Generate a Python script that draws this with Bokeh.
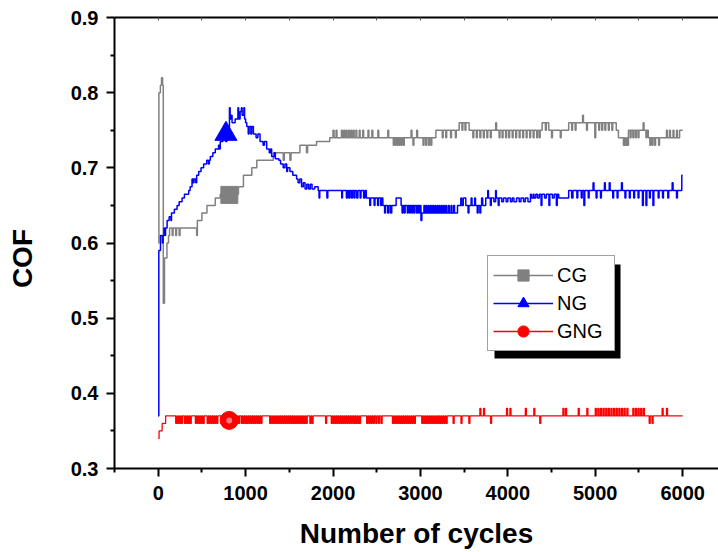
from bokeh.plotting import figure
from bokeh.models import (Range1d, FixedTicker, Legend, LegendItem, LinearAxis,
                          PrintfTickFormatter, BoxAnnotation, CustomJSTickFormatter)
from bokeh.embed import file_html
from bokeh.resources import INLINE

# ---------------- data ----------------
x_ticks = [0, 1000, 2000, 3000, 4000, 5000, 6000]
x_minor = [-500, 500, 1500, 2500, 3500, 4500, 5500, 6500]
y_ticks = [0.3, 0.4, 0.5, 0.6, 0.7, 0.8, 0.9]
y_minor = [0.35, 0.45, 0.55, 0.65, 0.75, 0.85]

cg_x = [
    0, 8, 25, 38, 50, 58, 72, 100, 118, 130,
    160, 170, 200, 210, 240, 250, 440, 448, 500, 558,
    653, 710, 918, 975, 1071, 1128, 1317, 1431, 1443, 1507,
    1519, 1621, 1697, 1709, 1811, 1962, 2000, 2012, 2035, 2045,
    2096, 2108, 2125, 2135, 2150, 2160, 2178, 2188, 2205, 2215,
    2232, 2242, 2262, 2272, 2300, 2310, 2340, 2350, 2400, 2410,
    2445, 2455, 2513, 2523, 2627, 2637, 2690, 2700, 2712, 2722,
    2734, 2744, 2756, 2766, 2780, 2790, 2805, 2815, 2893, 2903,
    2915, 2925, 2957, 2967, 3030, 3040, 3060, 3070, 3092, 3102,
    3120, 3130, 3177, 3250, 3260, 3290, 3300, 3345, 3355, 3400,
    3410, 3443, 3475, 3485, 3510, 3520, 3557, 3600, 3610, 3640,
    3650, 3680, 3690, 3720, 3730, 3760, 3770, 3800, 3810, 3861,
    3871, 3900, 3910, 3935, 3945, 3975, 3985, 4010, 4020, 4050,
    4060, 4090, 4100, 4130, 4140, 4170, 4180, 4210, 4220, 4250,
    4260, 4290, 4300, 4330, 4340, 4360, 4370, 4392, 4430, 4440,
    4468, 4500, 4510, 4600, 4610, 4696, 4730, 4740, 4770, 4780,
    4855, 4865, 4900, 4910, 4995, 5005, 5040, 5050, 5075, 5085,
    5110, 5120, 5150, 5160, 5190, 5200, 5240, 5265, 5322, 5335,
    5345, 5360, 5370, 5380, 5400, 5410, 5430, 5440, 5460, 5470,
    5490, 5500, 5548, 5558, 5580, 5590, 5607, 5625, 5635, 5650,
    5660, 5680, 5690, 5725, 5735, 5815, 5825, 5850, 5860, 5890,
    5900, 5930, 5940, 5965, 6000]
cg_y = [
    0.60, 0.80, 0.81, 0.82, 0.81, 0.52, 0.58, 0.60, 0.61, 0.62,
    0.61, 0.62, 0.61, 0.62, 0.61, 0.62, 0.61, 0.63, 0.64, 0.65,
    0.66, 0.665, 0.675, 0.69, 0.70, 0.71, 0.72, 0.71, 0.72, 0.71,
    0.72, 0.73, 0.72, 0.73, 0.735, 0.74, 0.75, 0.74, 0.75, 0.74,
    0.75, 0.74, 0.75, 0.74, 0.75, 0.74, 0.75, 0.74, 0.75, 0.74,
    0.75, 0.74, 0.75, 0.74, 0.75, 0.74, 0.75, 0.74, 0.75, 0.74,
    0.75, 0.74, 0.75, 0.74, 0.75, 0.74, 0.73, 0.74, 0.73, 0.74,
    0.73, 0.74, 0.73, 0.74, 0.73, 0.74, 0.73, 0.74, 0.75, 0.74,
    0.73, 0.74, 0.75, 0.74, 0.73, 0.74, 0.73, 0.74, 0.73, 0.74,
    0.73, 0.74, 0.75, 0.74, 0.75, 0.74, 0.75, 0.74, 0.75, 0.74,
    0.75, 0.76, 0.75, 0.76, 0.75, 0.76, 0.75, 0.74, 0.75, 0.74,
    0.75, 0.74, 0.75, 0.74, 0.75, 0.74, 0.75, 0.74, 0.75, 0.76,
    0.75, 0.74, 0.75, 0.74, 0.75, 0.74, 0.75, 0.74, 0.75, 0.74,
    0.75, 0.74, 0.75, 0.74, 0.75, 0.74, 0.75, 0.74, 0.75, 0.74,
    0.75, 0.74, 0.75, 0.74, 0.75, 0.74, 0.75, 0.76, 0.75, 0.76,
    0.75, 0.74, 0.75, 0.74, 0.75, 0.76, 0.75, 0.76, 0.75, 0.76,
    0.77, 0.76, 0.75, 0.76, 0.74, 0.76, 0.75, 0.76, 0.75, 0.76,
    0.75, 0.76, 0.75, 0.76, 0.75, 0.76, 0.75, 0.74, 0.73, 0.74,
    0.73, 0.74, 0.73, 0.75, 0.74, 0.75, 0.74, 0.75, 0.74, 0.75,
    0.74, 0.75, 0.76, 0.75, 0.74, 0.75, 0.74, 0.73, 0.74, 0.73,
    0.74, 0.73, 0.74, 0.73, 0.74, 0.75, 0.74, 0.75, 0.74, 0.75,
    0.74, 0.75, 0.74, 0.75, 0.75]

ng_x = [
    0, 7, 26, 48, 56, 66, 74, 84, 102, 125,
    145, 152, 185, 216, 240, 273, 300, 349, 365, 387,
    400, 410, 430, 440, 463, 490, 520, 555, 575, 585,
    596, 625, 653, 690, 700, 710, 740, 770, 786, 800,
    808, 815, 823, 835, 845, 880, 912, 920, 937, 952,
    960, 980, 988, 1000, 1013, 1030, 1040, 1060, 1070, 1089,
    1120, 1140, 1165, 1200, 1215, 1241, 1270, 1285, 1298, 1330,
    1340, 1380, 1400, 1430, 1450, 1470, 1480, 1507, 1540, 1583,
    1600, 1620, 1640, 1660, 1680, 1700, 1720, 1740, 1760, 1790,
    1830, 1840, 1848, 1930, 1940, 2100, 2108, 2153, 2165, 2180,
    2192, 2210, 2222, 2240, 2250, 2270, 2285, 2310, 2320, 2350,
    2365, 2381, 2420, 2430, 2470, 2480, 2510, 2520, 2545, 2555,
    2570, 2590, 2600, 2625, 2640, 2660, 2672, 2722, 2779, 2790,
    2800, 2815, 2825, 2850, 2860, 2875, 2885, 2900, 2910, 2925,
    2935, 2955, 2965, 2980, 2990, 3006, 3016, 3040, 3050, 3065,
    3075, 3090, 3100, 3115, 3125, 3140, 3150, 3165, 3175, 3190,
    3200, 3215, 3225, 3240, 3250, 3265, 3275, 3290, 3300, 3320,
    3330, 3350, 3360, 3380, 3390, 3424, 3462, 3472, 3490, 3519,
    3545, 3555, 3580, 3590, 3620, 3630, 3650, 3660, 3680, 3690,
    3700, 3712, 3747, 3770, 3778, 3800, 3810, 3840, 3860, 3868,
    3890, 3900, 3930, 3950, 3980, 4000, 4030, 4050, 4070, 4100,
    4130, 4150, 4180, 4200, 4230, 4259, 4270, 4290, 4300, 4320,
    4340, 4360, 4380, 4390, 4420, 4440, 4470, 4480, 4510, 4530,
    4555, 4565, 4582, 4696, 4730, 4745, 4790, 4800, 4840, 4850,
    4870, 4880, 4920, 4930, 4975, 4985, 5010, 5020, 5060, 5070,
    5105, 5115, 5160, 5170, 5200, 5210, 5250, 5260, 5300, 5310,
    5340, 5350, 5390, 5400, 5440, 5450, 5490, 5500, 5540, 5550,
    5580, 5590, 5620, 5630, 5660, 5670, 5720, 5730, 5770, 5780,
    5830, 5840, 5880, 5890, 5930, 5940, 5990, 6000]
ng_y = [
    0.37, 0.59, 0.61, 0.60, 0.61, 0.62, 0.61, 0.62, 0.63, 0.635,
    0.63, 0.64, 0.645, 0.65, 0.655, 0.66, 0.665, 0.67, 0.675, 0.685,
    0.68, 0.685, 0.68, 0.69, 0.695, 0.70, 0.705, 0.71, 0.705, 0.71,
    0.715, 0.72, 0.725, 0.73, 0.725, 0.735, 0.74, 0.735, 0.75, 0.74,
    0.75, 0.78, 0.765, 0.77, 0.76, 0.765, 0.78, 0.765, 0.775, 0.78,
    0.77, 0.78, 0.765, 0.76, 0.755, 0.745, 0.755, 0.745, 0.755, 0.745,
    0.74, 0.745, 0.735, 0.73, 0.735, 0.725, 0.72, 0.725, 0.715, 0.72,
    0.712, 0.71, 0.705, 0.70, 0.705, 0.695, 0.70, 0.695, 0.69, 0.685,
    0.68, 0.685, 0.675, 0.68, 0.672, 0.678, 0.672, 0.678, 0.672, 0.675,
    0.67, 0.66, 0.67, 0.66, 0.67, 0.66, 0.67, 0.66, 0.67, 0.66,
    0.67, 0.66, 0.67, 0.66, 0.67, 0.66, 0.67, 0.66, 0.67, 0.66,
    0.67, 0.66, 0.65, 0.66, 0.65, 0.66, 0.65, 0.66, 0.65, 0.66,
    0.65, 0.64, 0.65, 0.64, 0.65, 0.64, 0.65, 0.66, 0.65, 0.64,
    0.65, 0.64, 0.65, 0.64, 0.65, 0.64, 0.65, 0.64, 0.65, 0.64,
    0.65, 0.64, 0.65, 0.64, 0.65, 0.63, 0.64, 0.65, 0.64, 0.65,
    0.64, 0.65, 0.64, 0.65, 0.64, 0.65, 0.64, 0.65, 0.64, 0.65,
    0.64, 0.65, 0.64, 0.65, 0.64, 0.65, 0.64, 0.65, 0.64, 0.65,
    0.64, 0.65, 0.64, 0.65, 0.64, 0.65, 0.66, 0.65, 0.66, 0.65,
    0.64, 0.65, 0.66, 0.65, 0.66, 0.65, 0.64, 0.65, 0.64, 0.65,
    0.66, 0.65, 0.66, 0.67, 0.66, 0.65, 0.66, 0.655, 0.67, 0.66,
    0.65, 0.66, 0.655, 0.66, 0.655, 0.66, 0.655, 0.66, 0.655, 0.66,
    0.655, 0.66, 0.655, 0.66, 0.655, 0.665, 0.66, 0.665, 0.66, 0.665,
    0.66, 0.665, 0.65, 0.665, 0.66, 0.665, 0.65, 0.665, 0.66, 0.665,
    0.65, 0.665, 0.66, 0.67, 0.66, 0.67, 0.66, 0.67, 0.66, 0.67,
    0.65, 0.67, 0.66, 0.67, 0.68, 0.67, 0.66, 0.67, 0.66, 0.67,
    0.68, 0.67, 0.68, 0.67, 0.66, 0.67, 0.66, 0.67, 0.68, 0.67,
    0.66, 0.67, 0.66, 0.67, 0.66, 0.67, 0.66, 0.67, 0.65, 0.67,
    0.65, 0.67, 0.66, 0.67, 0.65, 0.67, 0.66, 0.67, 0.66, 0.67,
    0.66, 0.67, 0.68, 0.67, 0.66, 0.67, 0.69, 0.69]

gng_x = [
    0, 10, 45, 85, 200, 212, 222, 234, 244, 256,
    266, 278, 300, 312, 322, 334, 344, 356, 366, 378,
    425, 437, 447, 459, 470, 482, 492, 504, 514, 526,
    560, 572, 582, 594, 604, 616, 626, 638, 648, 660,
    670, 682, 720, 732, 742, 754, 764, 776, 786, 798,
    808, 820, 830, 842, 852, 864, 874, 886, 896, 908,
    918, 930, 950, 962, 972, 984, 994, 1006, 1016, 1028,
    1040, 1052, 1062, 1074, 1084, 1096, 1106, 1118, 1130, 1142,
    1152, 1164, 1175, 1187, 1275, 1287, 1297, 1309, 1319, 1331,
    1341, 1353, 1363, 1375, 1385, 1397, 1407, 1419, 1429, 1441,
    1451, 1463, 1473, 1485, 1495, 1507, 1517, 1529, 1539, 1551,
    1561, 1573, 1583, 1595, 1605, 1617, 1627, 1639, 1649, 1661,
    1671, 1683, 1693, 1705, 1735, 1747, 1760, 1772, 1915, 1927,
    1980, 1992, 2002, 2014, 2024, 2036, 2046, 2058, 2068, 2080,
    2090, 2102, 2112, 2124, 2134, 2146, 2160, 2172, 2185, 2197,
    2210, 2222, 2236, 2248, 2260, 2272, 2284, 2296, 2303, 2315,
    2385, 2397, 2410, 2422, 2435, 2447, 2462, 2474, 2490, 2502,
    2520, 2532, 2550, 2562, 2680, 2692, 2702, 2714, 2724, 2736,
    2746, 2758, 2768, 2780, 2790, 2802, 2812, 2824, 2836, 2848,
    2858, 2870, 2880, 2892, 2905, 2917, 2930, 2942, 3015, 3027,
    3037, 3049, 3060, 3072, 3082, 3094, 3105, 3117, 3127, 3139,
    3150, 3162, 3172, 3184, 3195, 3207, 3220, 3232, 3245, 3257,
    3270, 3282, 3294, 3306, 3374, 3386, 3464, 3476, 3554, 3566,
    3680, 3692, 3722, 3734, 3802, 3814, 3985, 3997, 4024, 4036,
    4200, 4212, 4297, 4309, 4365, 4377, 4630, 4642, 4660, 4672,
    4805, 4817, 4904, 4916, 5000, 5012, 5030, 5042, 5060, 5072,
    5090, 5102, 5120, 5132, 5150, 5162, 5180, 5192, 5210, 5222,
    5240, 5252, 5270, 5282, 5300, 5312, 5330, 5342, 5362, 5374,
    5430, 5442, 5460, 5472, 5490, 5502, 5520, 5532, 5550, 5562,
    5617, 5629, 5650, 5662, 5765, 5777, 5815, 5827, 6000]
gng_y = [
    0.34, 0.35, 0.36, 0.37, 0.36, 0.37, 0.36, 0.37, 0.36, 0.37,
    0.36, 0.37, 0.36, 0.37, 0.36, 0.37, 0.36, 0.37, 0.36, 0.37,
    0.36, 0.37, 0.36, 0.37, 0.36, 0.37, 0.36, 0.37, 0.36, 0.37,
    0.36, 0.37, 0.36, 0.37, 0.36, 0.37, 0.36, 0.37, 0.36, 0.37,
    0.36, 0.37, 0.36, 0.37, 0.36, 0.37, 0.36, 0.37, 0.36, 0.37,
    0.36, 0.37, 0.36, 0.37, 0.36, 0.37, 0.36, 0.37, 0.36, 0.37,
    0.36, 0.37, 0.36, 0.37, 0.36, 0.37, 0.36, 0.37, 0.36, 0.37,
    0.36, 0.37, 0.36, 0.37, 0.36, 0.37, 0.36, 0.37, 0.36, 0.37,
    0.36, 0.37, 0.36, 0.37, 0.36, 0.37, 0.36, 0.37, 0.36, 0.37,
    0.36, 0.37, 0.36, 0.37, 0.36, 0.37, 0.36, 0.37, 0.36, 0.37,
    0.36, 0.37, 0.36, 0.37, 0.36, 0.37, 0.36, 0.37, 0.36, 0.37,
    0.36, 0.37, 0.36, 0.37, 0.36, 0.37, 0.36, 0.37, 0.36, 0.37,
    0.36, 0.37, 0.36, 0.37, 0.36, 0.37, 0.36, 0.37, 0.36, 0.37,
    0.36, 0.37, 0.36, 0.37, 0.36, 0.37, 0.36, 0.37, 0.36, 0.37,
    0.36, 0.37, 0.36, 0.37, 0.36, 0.37, 0.36, 0.37, 0.36, 0.37,
    0.36, 0.37, 0.36, 0.37, 0.36, 0.37, 0.36, 0.37, 0.36, 0.37,
    0.36, 0.37, 0.36, 0.37, 0.36, 0.37, 0.36, 0.37, 0.36, 0.37,
    0.36, 0.37, 0.36, 0.37, 0.36, 0.37, 0.36, 0.37, 0.36, 0.37,
    0.36, 0.37, 0.36, 0.37, 0.36, 0.37, 0.36, 0.37, 0.36, 0.37,
    0.36, 0.37, 0.36, 0.37, 0.36, 0.37, 0.36, 0.37, 0.36, 0.37,
    0.36, 0.37, 0.36, 0.37, 0.36, 0.37, 0.36, 0.37, 0.36, 0.37,
    0.36, 0.37, 0.36, 0.37, 0.36, 0.37, 0.36, 0.37, 0.36, 0.37,
    0.36, 0.37, 0.36, 0.37, 0.36, 0.37, 0.36, 0.37, 0.36, 0.37,
    0.38, 0.37, 0.38, 0.37, 0.36, 0.37, 0.38, 0.37, 0.38, 0.37,
    0.38, 0.37, 0.38, 0.37, 0.36, 0.37, 0.38, 0.37, 0.38, 0.37,
    0.38, 0.37, 0.38, 0.37, 0.38, 0.37, 0.38, 0.37, 0.38, 0.37,
    0.38, 0.37, 0.38, 0.37, 0.38, 0.37, 0.38, 0.37, 0.38, 0.37,
    0.38, 0.37, 0.38, 0.37, 0.38, 0.37, 0.38, 0.37, 0.38, 0.37,
    0.38, 0.37, 0.38, 0.37, 0.38, 0.37, 0.38, 0.37, 0.38, 0.37,
    0.36, 0.37, 0.36, 0.37, 0.38, 0.37, 0.38, 0.37, 0.37]

# symbol positions on the curves
cg_mark_x, cg_mark_y = [814], [0.664]
ng_mark_x, ng_mark_y = [775], [0.745]
gng_mark_x, gng_mark_y = [812], [0.364]

labels = ["CG", "NG", "GNG"]

# ---------------- figure ----------------
FONT = "Liberation Sans"
p = figure(width=718, height=552, x_range=Range1d(-500, 6410),
           y_range=Range1d(0.3, 0.9), output_backend="svg",
           toolbar_location=None, min_border_left=114, min_border_right=0,
           min_border_top=17, min_border_bottom=84, outline_line_color=None,
           background_fill_color="white", border_fill_color="white")
p.xgrid.grid_line_color = None
p.ygrid.grid_line_color = None

for ax in (p.xaxis[0], p.yaxis[0]):
    ax.axis_line_width = 2
    ax.axis_line_color = "black"
    ax.major_tick_line_width = 2
    ax.minor_tick_line_width = 2
    ax.major_tick_out = 8
    ax.major_tick_in = 0
    ax.minor_tick_out = 4
    ax.minor_tick_in = 0
    ax.major_label_text_font = FONT
    ax.major_label_text_font_style = "bold"
    ax.major_label_text_font_size = "20px"
    ax.major_label_text_color = "black"
    ax.axis_label_text_font = FONT
    ax.axis_label_text_font_style = "bold"
    ax.axis_label_text_color = "black"

xa = p.xaxis[0]
xa.ticker = FixedTicker(ticks=x_ticks, minor_ticks=x_minor)
xa.major_label_standoff = 9
xa.axis_label = "Number of cycles"
xa.axis_label_text_font_size = "28px"
xa.axis_label_standoff = 15

ya = p.yaxis[0]
ya.ticker = FixedTicker(ticks=y_ticks, minor_ticks=y_minor)
ya.formatter = PrintfTickFormatter(format="%.1f")
ya.major_label_standoff = 8
# trailing no-break spaces push the vertical title a little lower, as in the original
ya.axis_label = "COF" + "\u00a0" * 4
ya.axis_label_text_font_size = "28px"
ya.axis_label_standoff = 30

# top border of the frame with small inward ticks, no labels
top = LinearAxis(ticker=FixedTicker(ticks=x_ticks + x_minor),
                 formatter=CustomJSTickFormatter(code="return ''"),
                 axis_line_width=2, axis_line_color="black",
                 major_tick_in=3, major_tick_out=0,
                 major_tick_line_color="#555555", major_tick_line_width=1,
                 minor_tick_in=0, minor_tick_out=0,
                 major_label_text_font_size="10px", major_label_standoff=0)
p.add_layout(top, "above")

# ---------------- series ----------------
cg_line = p.step(cg_x, cg_y, mode="after", line_color="#808080", line_width=1.5)
ng_line = p.step(ng_x, ng_y, mode="after", line_color="#0000ff", line_width=1.5)
gng_line = p.step(gng_x, gng_y, mode="after", line_color="#ff0000", line_width=1.3)

cg_mark = p.scatter(cg_mark_x, cg_mark_y, marker="square", size=17,
                    fill_color="#808080", line_color="#808080")
ng_mark = p.scatter(ng_mark_x, ng_mark_y, marker="triangle", size=22,
                    fill_color="#0000ff", line_color="#0000ff")
gng_mark = p.scatter(gng_mark_x, gng_mark_y, marker="circle", size=18,
                     fill_color="#ff0000", line_color="#ff0000")
# soft highlight of the red sphere symbol
p.scatter(gng_mark_x, gng_mark_y, marker="circle", size=6,
          fill_color="#ff8080", line_color=None)

# legend with a drop shadow (shadow drawn first, frame-relative pixels)
shadow = BoxAnnotation(left=380, right=506, bottom=110, top=204,
                       left_units="screen", right_units="screen",
                       bottom_units="screen", top_units="screen",
                       fill_color="black", fill_alpha=1.0, line_color=None)
p.add_layout(shadow)

items = [LegendItem(label=labels[0], renderers=[cg_line, cg_mark]),
         LegendItem(label=labels[1], renderers=[ng_line, ng_mark]),
         LegendItem(label=labels[2], renderers=[gng_line, gng_mark])]
legend = Legend(items=items, location=(373, 117), orientation="vertical",
                label_text_font=FONT, label_text_font_size="20px",
                label_text_color="black", glyph_width=60, glyph_height=28,
                label_height=20, label_width=52, label_standoff=4, padding=5,
                spacing=0, margin=0, border_line_color="#444444",
                border_line_width=1, background_fill_color="white",
                background_fill_alpha=1.0)
p.add_layout(legend, "center")

open("out.html", "w").write(file_html(p, INLINE))
